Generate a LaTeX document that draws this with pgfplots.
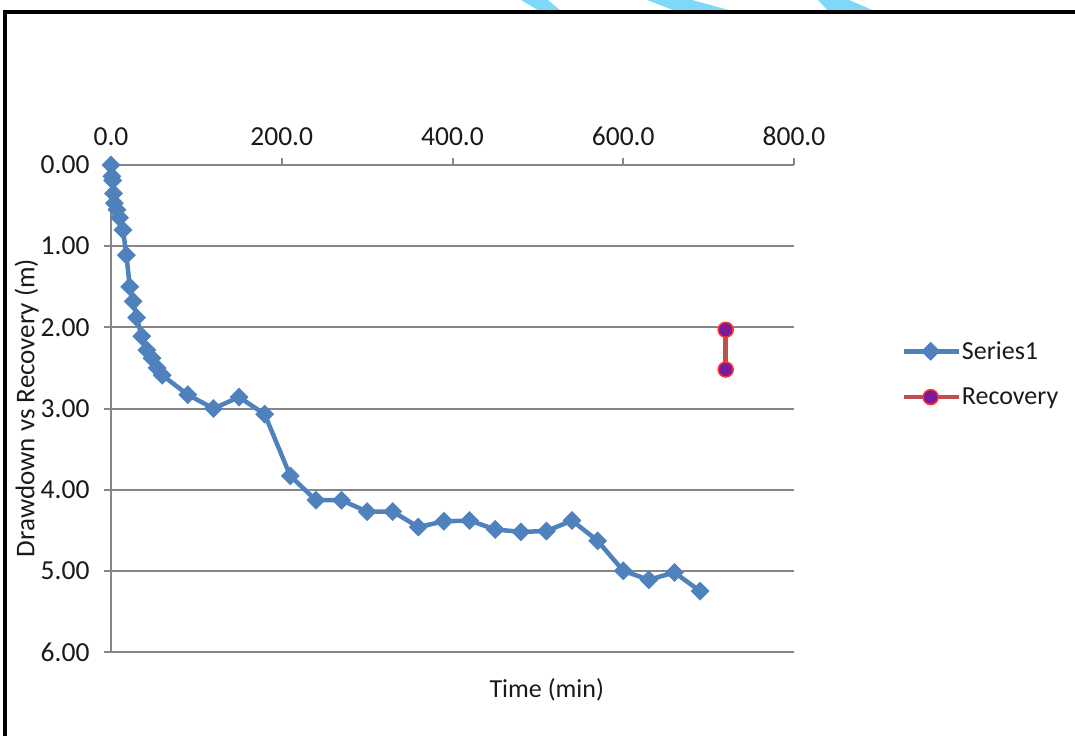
\documentclass[border=0pt]{standalone}
\usepackage{fontspec}
\setmainfont{Carlito}
\usepackage{pgfplots}
\pgfplotsset{compat=1.18}
\definecolor{sblue}{HTML}{4F81BD}
\definecolor{sred}{HTML}{C0504D}
\definecolor{gridgray}{HTML}{868686}
\definecolor{wm}{HTML}{80D8F8}
\definecolor{recfill}{HTML}{7A1A9A}
\definecolor{txt}{HTML}{1A1A1A}
\begin{document}
\begin{tikzpicture}[x=1pt,y=1pt]
\useasboundingbox (0,0) rectangle (1075,736);
% faint watermark streaks at the top edge
\fill[wm] (521,736) -- (548,736) -- (562,724) -- (541,724) -- cycle;
\fill[wm] (647,736) -- (692,736) -- (736,724) -- (678,724) -- cycle;
\fill[wm] (818,736) -- (849,736) -- (877,724) -- (829,724) -- cycle;
% frame
\draw[line width=4.5pt] (5,0) -- (5,724) -- (1075,724);
\begin{axis}[
  at={(111pt,84pt)}, anchor=south west,
  scale only axis, width=683pt, height=487pt,
  xmin=0, xmax=800, ymin=0, ymax=6, y dir=reverse,
  axis x line*=top, axis y line*=left,
  axis line style={gridgray, line width=2pt},
  tick align=outside,
  major tick length=7pt,
  tick style={gridgray, line width=2pt},
  /pgf/number format/assume math mode=true,
  xtick={0,200,400,600,800},
  ytick={0,1,2,3,4,5,6},
  xticklabel style={/pgf/number format/.cd, fixed, fixed zerofill, precision=1, /tikz/yshift=9pt},
  yticklabel style={/pgf/number format/.cd, fixed, fixed zerofill, precision=2, /tikz/xshift=-11pt},
  ymajorgrids,
  grid style={gridgray, line width=2pt},
  tick label style={font=\fontsize{27.5}{32}\selectfont, text=txt},
  label style={font=\fontsize{27}{32}\selectfont, text=txt},
  xlabel={Time (min)},
  ylabel={Drawdown vs Recovery (m)},
  xlabel style={at={(axis description cs:0.638,-0.078)}, anchor=center, font=\fontsize{26}{31}\selectfont},
  ylabel style={at={(axis description cs:-0.1234,0.501)}, anchor=center, rotate=0},
  clip=false,
  legend style={at={(axis description cs:1.157,0.571)}, anchor=west, draw=none, fill=none,
    inner sep=0pt, row sep=25pt, font=\fontsize{26}{31}\selectfont, text=txt,
    nodes={inner sep=1pt}},
  legend cell align=left,
  legend image code/.code={\draw[mark repeat=2,mark phase=2,#1] plot coordinates {(0pt,0pt) (27pt,0pt) (55pt,0pt)};},
]
\addplot[sblue, line width=4.5pt, mark=square*, mark size=6.4pt,
  mark options={rotate=45, fill=sblue, draw=sblue, line width=0.5pt}] coordinates {
(0,0) (1,0.14) (2,0.19) (3,0.35) (4,0.47) (7,0.55) (10,0.65) (14,0.80)
(18,1.11) (22,1.50) (26,1.68) (30,1.88) (36,2.11) (42,2.28) (48,2.38)
(54,2.50) (60,2.59) (90,2.83) (120,3.00) (150,2.86) (180,3.07) (210,3.83)
(240,4.13) (270,4.13) (300,4.27) (330,4.27) (360,4.46) (390,4.39)
(420,4.38) (450,4.49) (480,4.52) (510,4.51) (540,4.38) (570,4.63)
(600,5.00) (630,5.11) (660,5.02) (690,5.25)
};
\addlegendentry{Series1}
\addplot[sred, line width=4.5pt, mark=*, mark size=7.5pt,
  mark options={fill=recfill, draw=red!80!white, line width=1.5pt}] coordinates {
(720,2.03) (720,2.52)
};
\addlegendentry{Recovery}
\end{axis}
\end{tikzpicture}
\end{document}
